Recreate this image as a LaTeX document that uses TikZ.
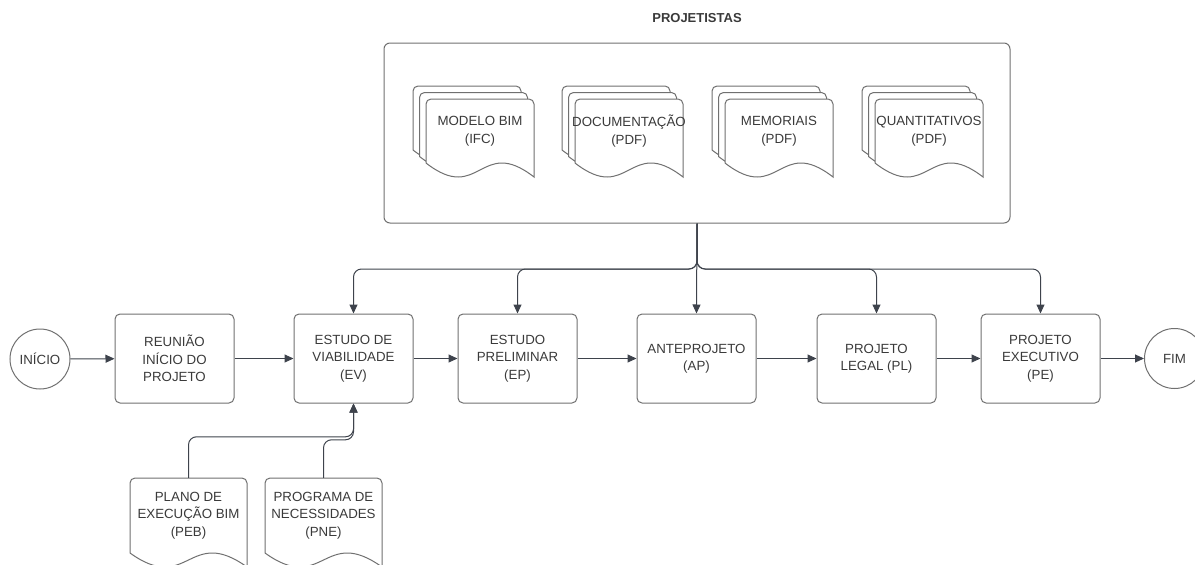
\documentclass[tikz,border=0pt]{standalone}
\usepackage{fontspec}
\setmainfont{Liberation Sans}
\usetikzlibrary{calc}
\usetikzlibrary{arrows.meta}
\usetikzlibrary{backgrounds}
\definecolor{caixa}{RGB}{112,112,112}
\definecolor{linha}{RGB}{62,67,76}
\definecolor{texto}{RGB}{58,58,58}
\tikzset{etapa/.style={
		draw=caixa, line width=1pt, rounded corners=5pt,
		minimum width=119pt, minimum height=89pt,
		align=center, text=texto,
		font=\fontsize{13.3}{17.5}\selectfont
}}
\tikzset{evento/.style={
		draw=caixa, line width=1pt, circle, minimum size=60pt, inner sep=0pt,
		text=texto, font=\fontsize{13.3}{17.5}\selectfont
}}
\tikzset{documento/.style={
		inner sep=0pt, align=center, text=texto,
		font=\fontsize{13.3}{17.5}\selectfont
}}
\tikzset{contorno/.style={draw=caixa, line width=1pt, fill=white}}
\tikzset{seta/.style={
		draw=linha, line width=1pt, rounded corners=8pt,
		-{Triangle[length=9pt,width=8pt]}
}}
% folha com base ondulada: #1 deslocamento, #2 no, #3 meia largura, #4 meia altura
\newcommand{\folha}[4][(0pt,0pt)]{%
	\draw[contorno] let \p0=($(#2.center)+#1$) in
	(\x0-#3,\y0-#4) -- (\x0-#3,\y0+#4-5pt)
	arc[start angle=180,end angle=90,radius=5pt]
	-- (\x0+#3-5pt,\y0+#4)
	arc[start angle=90,end angle=0,radius=5pt]
	-- (\x0+#3,\y0-#4-14pt)
	.. controls (\x0,\y0-#4+28pt) and (\x0,\y0-#4-42pt) .. (\x0-#3,\y0-#4)
	-- cycle;}

\begin{document}
\begin{tikzpicture}[x=1pt,y=-1pt]
  \useasboundingbox (0,0) rectangle (1195,565);

  \node[text=texto, font=\bfseries\fontsize{13}{15}\selectfont] (titulo) at (697,18) {PROJETISTAS};
  \node[draw=caixa, line width=1pt, rounded corners=6pt, minimum width=626pt, minimum height=180pt] (proj) at (697,133) {};

  \node[documento, minimum width=108pt, minimum height=62pt] (ifc) at (480,131) {MODELO BIM\\(IFC)};
  \node[documento, minimum width=108pt, minimum height=62pt] (doc) at (629,131) {DOCUMENTAÇÃO\\(PDF)};
  \node[documento, minimum width=108pt, minimum height=62pt] (mem) at (779,131) {MEMORIAIS\\(PDF)};
  \node[documento, minimum width=108pt, minimum height=62pt] (quant) at (929,131) {QUANTITATIVOS\\(PDF)};

  \node[evento] (inicio) at (40,359) {INÍCIO};
  \node[etapa] (reuniao) at (174.5,358.5) {REUNIÃO\\INÍCIO DO\\PROJETO};
  \node[etapa] (ev) at (353.5,358.5) {ESTUDO DE\\VIABILIDADE\\(EV)};
  \node[etapa] (ep) at (517.5,358.5) {ESTUDO\\PRELIMINAR\\(EP)};
  \node[etapa] (ap) at (696.5,358.5) {ANTEPROJETO\\(AP)};
  \node[etapa] (pl) at (876.5,358.5) {PROJETO\\LEGAL (PL)};
  \node[etapa] (pe) at (1040.5,358.5) {PROJETO\\EXECUTIVO\\(PE)};
  \node[evento] (fim) at (1174.5,358.5) {FIM};

  \node[documento, minimum width=117pt, minimum height=75pt] (peb) at (188.5,515.5) {PLANO DE\\EXECUÇÃO BIM\\(PEB)};
  \node[documento, minimum width=117pt, minimum height=75pt] (pne) at (323.5,515.5) {PROGRAMA DE\\NECESSIDADES\\(PNE)};

  \begin{scope}[on background layer]
    \foreach \d in {ifc,doc,mem,quant}{
      \folha[(-13pt,13pt)]{\d}{54pt}{32pt}
      \folha[(-6.5pt,6.5pt)]{\d}{54pt}{32pt}
      \folha{\d}{54pt}{32pt}
    }
    \folha{peb}{58.5pt}{37.5pt}
    \folha{pne}{58.5pt}{37.5pt}
  \end{scope}

  \draw[seta] (inicio) -- (reuniao);
  \draw[seta] (reuniao) -- (ev);
  \draw[seta] (ev) -- (ep);
  \draw[seta] (ep) -- (ap);
  \draw[seta] (ap) -- (pl);
  \draw[seta] (pl) -- (pe);
  \draw[seta] (pe) -- (fim);

  \coordinate (barra) at (697,269);
  \draw[seta] (proj.south) -- (barra) -| (ev.north);
  \draw[seta] (proj.south) -- (barra) -| (ep.north);
  \draw[seta] (proj.south) -- (ap.north);
  \draw[seta] (proj.south) -- (barra) -| (pl.north);
  \draw[seta] (proj.south) -- (barra) -| (pe.north);

  \draw[seta] (peb.north) -- ++(0,-41) -| (ev.south);
  \draw[seta] (pne.north) -- ++(0,-38) -| (ev.south);
\end{tikzpicture}
\end{document}
